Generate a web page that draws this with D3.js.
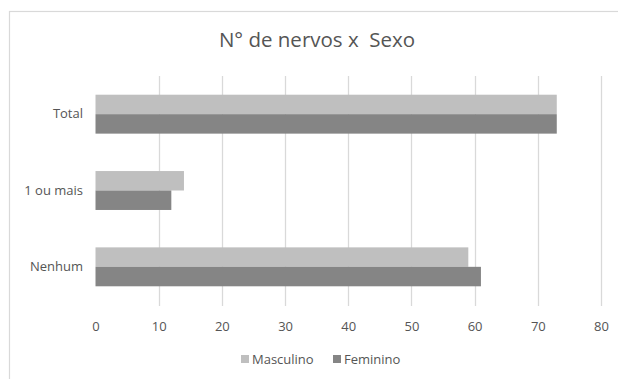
<!DOCTYPE html>
<html><head><meta charset="utf-8">
<script src="https://cdn.jsdelivr.net/npm/d3@7/dist/d3.min.js"></script>
<style>body{margin:0;background:#fff}svg{display:block}</style>
</head><body>
<svg id="c" width="618" height="379"></svg>
<script>
const categories = ["Total", "1 ou mais", "Nenhum"];
const seriesNames = ["Masculino", "Feminino"];
const masculino = [73, 14, 59];
const feminino = [73, 12, 61];
const tickValues = [0, 10, 20, 30, 40, 50, 60, 70, 80];
const colors = ["#bfbfbf", "#858585"];
const title = "N° de nervos x  Sexo";

const svg = d3.select("#c");
const font = "'Open Sans', sans-serif";
const txt = "#555555";

svg.append("rect").attr("x", 9.5).attr("y", 11.5).attr("width", 620).attr("height", 380)
  .attr("fill", "#fff").attr("stroke", "#d9d9d9").attr("stroke-width", 1.2);

const x = d3.scaleLinear().domain([0, 80]).range([95.5, 601]);
const y = d3.scaleBand().domain(categories).range([76, 305]).paddingInner(0.49).paddingOuter(0.245);
const ys = d3.scaleBand().domain(seriesNames).range([0, y.bandwidth()]);

// gridlines
svg.append("g").selectAll("line").data(tickValues.filter(d => d > 0)).join("line")
  .attr("x1", d => Math.round(x(d)) + 0.5).attr("x2", d => Math.round(x(d)) + 0.5)
  .attr("y1", 76).attr("y2", 306)
  .attr("stroke", "#d9d9d9").attr("stroke-width", 1.3);

// bars
const data = categories.map((c, i) => ({ c, vals: [masculino[i], feminino[i]] }));
const g = svg.append("g").selectAll("g").data(data).join("g")
  .attr("transform", d => `translate(0,${y(d.c)})`);
g.selectAll("rect").data(d => d.vals.map((v, k) => ({ v, k }))).join("rect")
  .attr("x", x(0)).attr("y", d => ys(seriesNames[d.k]))
  .attr("width", d => x(d.v) - x(0)).attr("height", ys.bandwidth())
  .attr("fill", d => colors[d.k]);

// x axis labels
const xAxis = d3.axisBottom(x).tickValues(tickValues).tickSize(0).tickPadding(0);
const xa = svg.append("g").attr("transform", "translate(0,326)").call(xAxis);
xa.select(".domain").remove();
xa.selectAll("text").attr("font-family", font).attr("font-size", 13).attr("fill", txt)
  .attr("dy", "0.35em").attr("y", 0);

// y axis labels
const yAxis = d3.axisLeft(y).tickSize(0).tickPadding(0);
const ya = svg.append("g").attr("transform", "translate(83,0)").call(yAxis);
ya.select(".domain").remove();
ya.selectAll("text").attr("font-family", font).attr("font-size", 13).attr("fill", txt);

// title
svg.append("text").attr("x", 317).attr("y", 47).attr("text-anchor", "middle")
  .attr("font-family", font).attr("font-size", 20.5).attr("fill", txt)
  .style("white-space", "pre").text(title);

// legend
const legX = [241, 333];
const leg = svg.append("g").selectAll("g").data(seriesNames).join("g")
  .attr("transform", (d, i) => `translate(${legX[i]},359)`);
leg.append("rect").attr("x", 0).attr("y", -4).attr("width", 8).attr("height", 8)
  .attr("fill", (d, i) => colors[i]);
leg.append("text").attr("x", 11).attr("y", 0).attr("dy", "0.35em")
  .attr("font-family", font).attr("font-size", 13).attr("fill", txt).text(d => d);
</script>
</body></html>
